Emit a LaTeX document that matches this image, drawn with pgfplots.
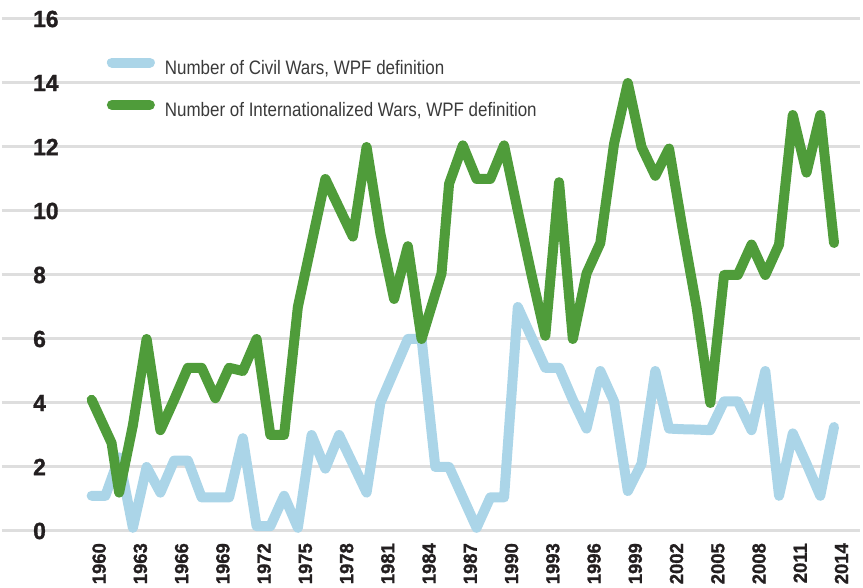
\documentclass[border=0pt]{standalone}
\usepackage{fontspec}
\setmainfont{Liberation Sans}
\newfontfamily\legfont[FakeStretch=0.87]{Liberation Sans}
\newfontfamily\tickfont[FakeStretch=0.97,FakeBold=1.2]{Liberation Sans}
\usepackage{pgfplots}
\pgfplotsset{compat=1.18}
\usepackage{pgfplotstable}
\definecolor{civil}{HTML}{ABD5E8}
\definecolor{intl}{HTML}{4F9C3A}
\definecolor{gridc}{HTML}{DEDEDE}
\definecolor{ticktext}{HTML}{231F20}
\definecolor{legtext}{HTML}{3A3A3A}

\pgfplotstableread{
year val
1960 1.1
1961 1.1
1962 2.3
1963 0.1
1964 2.0
1965 1.2
1966 2.2
1967 2.2
1968 1.05
1969 1.05
1970 1.05
1971 2.9
1972 0.15
1973 0.15
1974 1.1
1975 0.1
1976 3.0
1977 1.95
1978 3.0
1979 2.1
1980 1.2
1981 4.0
1982 5.0
1983 6.0
1984 6.0
1985 2.0
1986 2.0
1987 1.05
1988 0.1
1989 1.05
1990 1.05
1991 7.0
1992 6.05
1993 5.1
1994 5.1
1995 4.1
1996 3.2
1997 5.0
1998 4.05
1999 1.25
2000 2.1
2001 5.0
2002 3.2
2003 3.18
2004 3.17
2005 3.15
2006 4.05
2007 4.05
2008 3.15
2009 5.0
2010 1.1
2011 3.05
2012 2.1
2013 1.1
2014 3.25
}\civiltab

\pgfplotstableread{
year val
1960 4.1
1961.45 2.75
1962 1.2
1963 3.3
1964 6.0
1965 3.15
1966 4.1
1967 5.1
1968 5.1
1969 4.15
1970 5.1
1971 5.0
1972 6.0
1973 3.0
1974 3.0
1975 7.0
1976 9.0
1977 11.0
1978 10.1
1979 9.2
1980 12.0
1981 9.3
1982 7.25
1983 8.9
1984 6.0
1985.45 8.05
1986 10.85
1987 12.05
1988 11.0
1989 11.0
1990 12.05
1991 10.0
1992 8.0
1993 6.1
1994 10.9
1995 6.0
1996 8.05
1997 9.0
1998 12.1
1999 14.0
2000 12.0
2001 11.1
2002 11.95
2003 9.4
2004 7.0
2005 4.0
2006 8.0
2007 8.0
2008 8.95
2009 8.0
2010 8.95
2011 13.0
2012 11.2
2013 13.0
2014 9.0
}\intltab

\begin{document}
\begin{tikzpicture}
\useasboundingbox (0,0) rectangle (863pt,588pt);
\begin{axis}[
  at={(2pt,57pt)}, anchor=south west,
  scale only axis, width=858pt, height=512pt,
  xmin=1953.48, xmax=2015.89, ymin=0, ymax=16,
  clip=false,
  axis line style={draw=none},
  tick style={draw=none},
  /pgf/number format/assume math mode=true,
  ytick={0,2,...,16},
  ymajorgrids,
  grid style={gridc, line width=3pt},
  xtick={1960,1963,...,2014},
  xticklabels={1960,1963,1966,1969,1972,1975,1978,1981,1984,1987,1990,1993,1996,1999,2002,2005,2008,2011,2014},
  x tick label style={xshift=7.5pt, yshift=-12pt, rotate=90, anchor=east, inner sep=0pt,
     font=\tickfont\bfseries\fontsize{19}{19}\selectfont, text=ticktext},
  y tick label style={anchor=west, xshift=31pt, inner sep=0pt,
     font=\tickfont\bfseries\fontsize{23.5}{24}\selectfont, text=ticktext},
  legend style={at={(axis description cs:0.122,0.925)}, anchor=north west,
     draw=none, fill=none, inner sep=0pt, row sep=24pt,
     font=\legfont\fontsize{19.5}{19.5}\selectfont, text=legtext,
     nodes={inner sep=0pt}},
  legend cell align=left,
  legend image code/.code={\draw[#1,line cap=round,line width=10pt] (0pt,5.5pt) -- (38pt,5.5pt);},
  every axis plot/.append style={line width=10pt, line join=round, line cap=round},
]
\addplot[civil, line width=10pt] table[x=year,y=val] {\civiltab};
\addlegendentry{\hspace{10pt}Number of Civil Wars, WPF definition}
\addplot[intl, line width=10pt] table[x=year,y=val] {\intltab};
\addlegendentry{\hspace{10pt}Number of Internationalized Wars, WPF definition}
\end{axis}
\end{tikzpicture}
\end{document}
